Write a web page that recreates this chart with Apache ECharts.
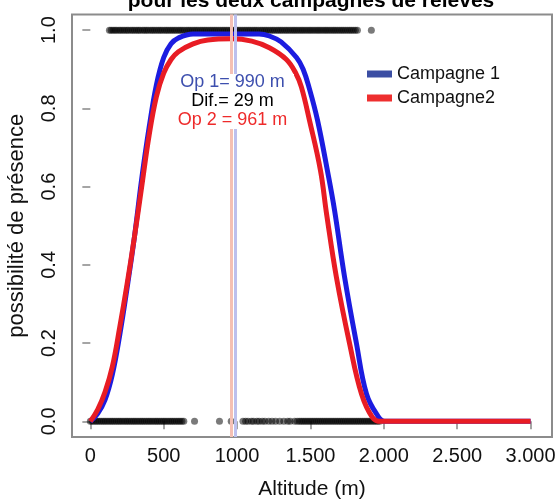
<!DOCTYPE html>
<html>
<head>
<meta charset="utf-8">
<script src="https://cdn.jsdelivr.net/npm/echarts@6/dist/echarts.min.js"></script>
<style>
html,body{margin:0;padding:0;background:#fff;}
#chart{width:556px;height:501px;}
</style>
</head>
<body>
<div id="chart"></div>
<script>
// ---- data ----
const titleText = 'pour les deux campagnes de relevés';
const xName = 'Altitude (m)';
const yName = 'possibilité de présence';
const seriesNames = ['Campagne 1', 'Campagne2'];
const opt1 = 990;
const opt2 = 961;

const xTickValues = [0, 500, 1000, 1500, 2000, 2500, 3000];
const xTickLabels = ['0', '500', '1000', '1.500', '2.000', '2.500', '3.000'];
const yTickValues = [0, 0.2, 0.4, 0.6, 0.8, 1.0];
const yTickLabels = ['0.0', '0.2', '0.4', '0.6', '0.8', '1.0'];

// Campagne 1 (blue) response curve
const blueAlt = [0, 50, 100, 150, 200, 250, 300, 350, 400, 450, 500, 550, 600, 700, 800, 990, 1150, 1220, 1300, 1405, 1450, 1493, 1548, 1616, 1664, 1732, 1813, 1882, 1957, 2005, 2100, 3000];
const blueVal = [0, 0.02, 0.055, 0.12, 0.22, 0.34, 0.47, 0.62, 0.75, 0.86, 0.93, 0.965, 0.98, 0.99, 0.99, 0.99, 0.99, 0.985, 0.97, 0.93, 0.9, 0.85, 0.77, 0.64, 0.54, 0.37, 0.2, 0.07, 0.015, 0, 0, 0];

// Campagne2 (red) response curve
const redAlt = [0, 50, 100, 150, 200, 250, 300, 350, 400, 450, 500, 550, 600, 700, 800, 961, 1100, 1220, 1336, 1400, 1438, 1493, 1568, 1610, 1677, 1766, 1848, 1923, 1980, 2100, 3000];
const redVal = [0, 0.03, 0.075, 0.14, 0.24, 0.35, 0.47, 0.6, 0.73, 0.83, 0.89, 0.925, 0.945, 0.965, 0.975, 0.978, 0.972, 0.955, 0.925, 0.89, 0.855, 0.77, 0.642, 0.53, 0.368, 0.2, 0.07, 0.01, 0, 0, 0];

// observed presences (y = 1)
const presAlt = [130,142,155,168,180,195,207,221,234,248,260,275,288,301,315,328,340,356,369,382,395,410,423,436,450,464,477,490,505,518,531,545,558,572,585,600,613,626,640,655,668,681,695,709,722,735,750,763,777,790,804,818,831,845,858,872,886,900,913,927,940,955,968,981,995,1008,1022,1036,1050,1063,1077,1090,1104,1118,1131,1145,1160,1173,1187,1200,1214,1228,1242,1255,1270,1283,1297,1310,1325,1338,1352,1366,1380,1393,1407,1421,1435,1448,1462,1476,1490,1503,1517,1531,1545,1558,1572,1586,1600,1613,1627,1641,1655,1668,1682,1696,1710,1723,1737,1751,1765,1778,1792,1806,1820,1915];
// observed absences (y = 0)
const absAlt = [0,12,25,38,50,63,76,89,101,114,127,140,152,165,178,191,203,216,229,242,254,267,280,293,305,318,331,344,356,369,382,395,407,420,433,446,458,471,484,497,509,522,535,548,560,573,586,599,611,624,637,710,880,960,1040,1058,1075,1098,1112,1135,1150,1172,1190,1215,1238,1262,1290,1318,1345,1362,1392,1410,1425,1438,1451,1464,1477,1490,1503,1516,1529,1542,1555,1568,1581,1594,1607,1620,1633,1646,1659,1672,1685,1698,1711,1724,1737,1750,1763,1776,1789,1802,1815,1828,1841,1854,1867,1880,1893,1906,1919,1932,1945,1958,1971];

// ---- chart ----
const FONT = '"Liberation Sans", Arial, sans-serif';
const chart = echarts.init(document.getElementById('chart'));
const pts = presAlt.map(a => [a, 1]).concat(absAlt.map(a => [a, 0]));

const option = {
  backgroundColor: '#fff',
  animation: false,
  grid: {
    left: 72, right: 4, top: 14.5, bottom: 64,
    containLabel: false, outerBoundsMode: 'none',
    show: true, borderColor: '#8c8c8c', borderWidth: 2, backgroundColor: '#fff'
  },
  xAxis: {
    type: 'value', min: -125, max: 3146,
    name: xName, nameLocation: 'middle', nameGap: 42,
    nameTextStyle: { fontFamily: FONT, fontSize: 21, color: '#111' },
    axisLine: { show: false },
    splitLine: { show: false },
    axisTick: { show: true, length: 8, lineStyle: { color: '#888', width: 1.5 }, customValues: xTickValues },
    axisLabel: {
      customValues: xTickValues, margin: 9, fontFamily: FONT, fontSize: 20, color: '#111',
      formatter: v => xTickLabels[xTickValues.indexOf(v)]
    }
  },
  yAxis: {
    type: 'value', min: -0.04, max: 1.04,
    name: yName, nameLocation: 'middle', nameRotate: 90, nameGap: 44,
    nameTextStyle: { fontFamily: FONT, fontSize: 22, color: '#111' },
    axisLine: { show: false },
    splitLine: { show: false },
    axisTick: { show: true, length: 8, lineStyle: { color: '#888', width: 1.5 }, customValues: yTickValues },
    axisLabel: {
      customValues: yTickValues, rotate: 90, margin: 13, fontFamily: FONT, fontSize: 20, color: '#111',
      formatter: v => yTickLabels[yTickValues.findIndex(t => Math.abs(t - v) < 1e-6)]
    }
  },
  legend: {
    data: [
      { name: seriesNames[0], itemStyle: { color: '#3b4ea3' } },
      { name: seriesNames[1], itemStyle: { color: '#ee2f2f' } }
    ],
    orient: 'vertical', left: 362, top: 60, icon: 'rect',
    itemWidth: 25, itemHeight: 7, itemGap: 6,
    textStyle: { fontFamily: FONT, fontSize: 18, color: '#111' }
  },
  series: [
    {
      name: 'obs', type: 'scatter', z: 1,
      symbol: 'circle', symbolSize: 7,
      itemStyle: { color: 'rgba(0,0,0,0.65)' },
      data: pts,
      silent: true,
      markLine: {
        silent: true, symbol: ['none', 'none'], label: { show: false },
        data: [
          { xAxis: opt2, lineStyle: { color: '#f4c0b4', width: 3, type: 'solid' } },
          { xAxis: opt1, lineStyle: { color: '#bcc0ee', width: 3, type: 'solid' } }
        ]
      }
    },
    {
      name: seriesNames[0], type: 'line', z: 3,
      data: blueAlt.map((a, i) => [a, blueVal[i]]),
      showSymbol: false, smooth: 0.4,
      lineStyle: { color: '#1c1ce0', width: 5 },
      itemStyle: { color: '#1c1ce0' }
    },
    {
      name: seriesNames[1], type: 'line', z: 4,
      data: redAlt.map((a, i) => [a, redVal[i]]),
      showSymbol: false, smooth: 0.4,
      lineStyle: { color: '#e81c24', width: 5 },
      itemStyle: { color: '#e81c24' }
    }
  ],
  graphic: [
    { type: 'text', x: 311, y: 12, z: 100,
      style: { text: titleText, font: 'bold 21px ' + FONT, fill: '#000', textAlign: 'center', textVerticalAlign: 'bottom' } },
    { type: 'rect', z: 100, shape: { x: 171, y: 74, width: 123, height: 55 }, style: { fill: '#fff' } },
    { type: 'text', x: 232.5, y: 82, z: 101,
      style: { text: 'Op 1= ' + opt1 + ' m', font: '18px ' + FONT, fill: '#3d4fae', textAlign: 'center', textVerticalAlign: 'middle' } },
    { type: 'text', x: 232.5, y: 101, z: 101,
      style: { text: 'Dif.= ' + (opt1 - opt2) + ' m', font: '18px ' + FONT, fill: '#000', textAlign: 'center', textVerticalAlign: 'middle' } },
    { type: 'text', x: 232.5, y: 120, z: 101,
      style: { text: 'Op 2 = ' + opt2 + ' m', font: '18px ' + FONT, fill: '#ee2a2a', textAlign: 'center', textVerticalAlign: 'middle' } }
  ]
};
chart.setOption(option);
</script>
</body>
</html>
